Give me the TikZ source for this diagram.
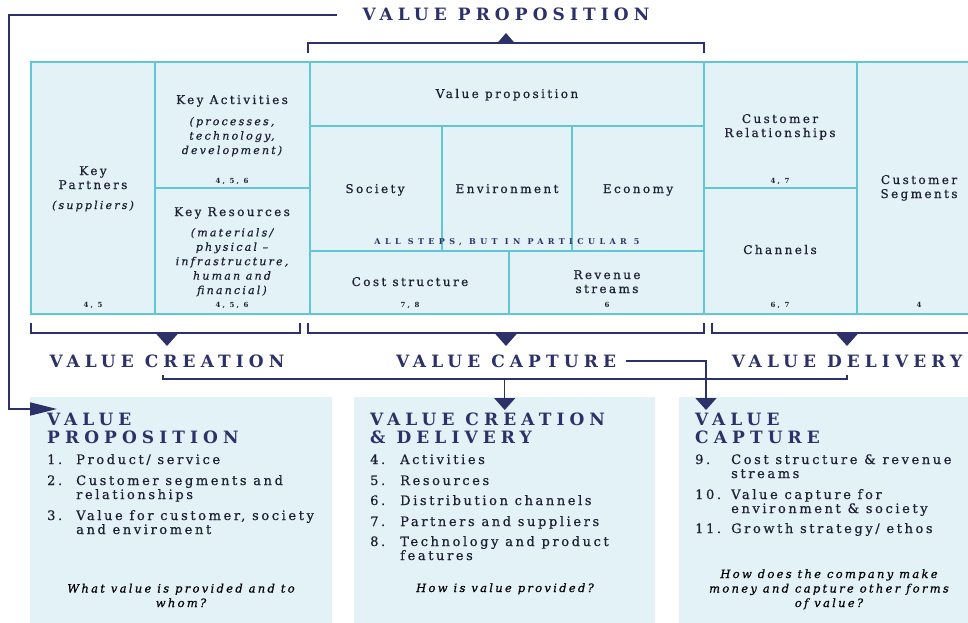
\documentclass[tikz,border=0pt]{standalone}
\usepackage{fontspec}
\setmainfont{DejaVu Serif}[LetterSpace=20, FakeBold=0.6]
\newfontfamily\capsfont{DejaVu Serif}[LetterSpace=30]
\newfontfamily\stepsfont{DejaVu Serif}[LetterSpace=55]
\usetikzlibrary{arrows.meta}
\definecolor{navy}{RGB}{45,49,105}
\definecolor{ink}{RGB}{30,31,52}
\definecolor{cyanline}{RGB}{98,198,212}
\definecolor{paleblue}{RGB}{227,242,246}

\begin{document}
\begin{tikzpicture}[x=1pt, y=-1pt,
    cellline/.style={draw=cyanline, line width=1.7pt},
    celltext/.style={font=\fontsize{12}{14}\selectfont, text=ink, align=center, inner sep=0pt, anchor=base},
    cellnote/.style={font=\fontsize{11}{14.4}\selectfont\itshape, text=ink, align=center, inner sep=0pt, anchor=base},
    cellnum/.style={font=\capsfont\bfseries\fontsize{7}{8}\selectfont, text=ink, inner sep=0pt, anchor=base},
    bigtitle/.style={font=\capsfont\bfseries\fontsize{17}{18}\selectfont, text=navy, inner sep=0pt, anchor=base},
    boxtitle/.style={bigtitle, align=left, anchor=base west},
    listtext/.style={font=\fontsize{13}{14}\selectfont, text=ink, align=left, inner sep=0pt, anchor=base west},
    question/.style={font=\fontsize{11.5}{14.5}\selectfont\itshape, text=black, align=center, inner sep=0pt, anchor=base},
    panel/.style={fill=paleblue, inner sep=0pt, anchor=north west, minimum height=230pt},
    bracket/.style={draw=navy, line width=1.5pt},
    downtip/.style={-{Triangle[width=21pt,length=12pt]}}]
    \useasboundingbox (0,0) rectangle (968,623);
    \clip (0,0) rectangle (968,623);

    \node[panel, minimum width=302pt] (vpbox) at (30,397) {};
    \node[panel, minimum width=301pt] (cdbox) at (354,397) {};
    \node[panel, minimum width=295pt] (capbox) at (679,397) {};

    \fill[paleblue] (31,62) rectangle (975,314);
    \draw[cellline] (31,62) rectangle (975,314);
    \draw[cellline] (155,62) -- (155,314) (310,62) -- (310,314) (704,62) -- (704,314) (857,62) -- (857,314);
    \draw[cellline] (155,188) -- (310,188) (704,188) -- (857,188);
    \draw[cellline] (310,126) -- (704,126) (310,251) -- (704,251);
    \draw[cellline] (442,126) -- (442,251) (572,126) -- (572,251) (509,251) -- (509,314);

    \node[celltext] (partners) at (93,189) {Key\\Partners};
    \node[cellnote] at (93,209) {(suppliers)};
    \node[cellnum] at (93,307) {4, 5};
    \node[celltext] (activities) at (232,104) {Key Activities};
    \node[cellnote] at (232,154) {(processes,\\technology,\\development)};
    \node[cellnum] at (232,183) {4, 5, 6};
    \node[celltext] (resources) at (232,216) {Key Resources};
    \node[cellnote] at (232,294) {(materials/\\physical --\\infrastructure,\\human and\\financial)};
    \node[cellnum] at (232,307) {4, 5, 6};
    \node[celltext] (valueprop) at (507,98) {Value proposition};
    \node[celltext] (society) at (375,193) {Society};
    \node[celltext] (environment) at (507,193) {Environment};
    \node[celltext] (economy) at (638,193) {Economy};
    \node[font=\stepsfont\bfseries\fontsize{8}{9}\selectfont, text=navy, inner sep=0pt, anchor=base] (allsteps) at (507,244) {ALL STEPS, BUT IN PARTICULAR 5};
    \node[celltext] (cost) at (410,286) {Cost structure};
    \node[cellnum] at (410,307) {7, 8};
    \node[celltext] (revenue) at (607,293) {Revenue\\streams};
    \node[cellnum] at (607,307) {6};
    \node[celltext] (relations) at (780,137) {Customer\\Relationships};
    \node[cellnum] at (780,183) {4, 7};
    \node[celltext] (channels) at (780,254) {Channels};
    \node[cellnum] at (780,307) {6, 7};
    \node[celltext] (segments) at (919,198) {Customer\\Segments};
    \node[cellnum] at (919,307) {4};

    \node[bigtitle] (vptop) at (506,21) {VALUE PROPOSITION};
    \node[bigtitle] (vcreate) at (167,367) {VALUE CREATION};
    \node[bigtitle] (vcapture) at (506,367) {VALUE CAPTURE};
    \node[bigtitle] (vdeliver) at (847,367) {VALUE DELIVERY};

    \draw[bracket] (308,53) |- (704,43) -- (704,53);
    \draw[bracket, -{Triangle[width=17pt,length=10pt]}] (vptop.south |- 0,43) -- ++(0,-10);
    \draw[bracket] (31,323) |- (300,333) -- (300,323);
    \draw[bracket] (308,323) |- (704,333) -- (704,323);
    \draw[bracket] (712,323) |- (975,333);
    \draw[bracket, downtip] (vcreate.north |- 0,333) -- ++(0,13);
    \draw[bracket, downtip] (vcapture.north |- 0,333) -- ++(0,13);
    \draw[bracket, downtip] (vdeliver.north |- 0,333) -- ++(0,13);

    \draw[bracket, -{Triangle[width=13pt,length=27pt]}] ([xshift=-25pt]vptop.west) -| (9,409) -- ([shift={(27,12)}]vpbox.north west);
    \draw[bracket] (163,375) |- (847,379) -- (847,375);
    \draw[bracket, downtip] (cdbox.north |- 0,379) -- ([yshift=-13pt]cdbox.north);
    \draw[bracket, downtip] ([xshift=10pt]vcapture.east) -| ([shift={(27,13)}]capbox.north west);

    \node[boxtitle] (vptitle) at (47,443) {VALUE\\PROPOSITION};
    \node[listtext] at (47,464) {1.};
    \node[listtext] at (76,464) {Product/ service};
    \node[listtext] at (47,485) {2.};
    \node[listtext] at (76,499) {Customer segments and\\relationships};
    \node[listtext] at (47,520) {3.};
    \node[listtext] at (76,534) {Value for customer, society\\and enviroment};
    \node[question] at (181,607) {What value is provided and to\\whom?};

    \node[boxtitle] (cdtitle) at (370,443) {VALUE CREATION\\\& DELIVERY};
    \node[listtext] at (370,464) {4.};
    \node[listtext] at (400,464) {Activities};
    \node[listtext] at (370,485) {5.};
    \node[listtext] at (400,485) {Resources};
    \node[listtext] at (370,505) {6.};
    \node[listtext] at (400,505) {Distribution channels};
    \node[listtext] at (370,526) {7.};
    \node[listtext] at (400,526) {Partners and suppliers};
    \node[listtext] at (370,546) {8.};
    \node[listtext] at (400,560) {Technology and product\\features};
    \node[question] at (505,592) {How is value provided?};

    \node[boxtitle] (captitle) at (695,443) {VALUE\\CAPTURE};
    \node[listtext] at (695,464) {9.};
    \node[listtext] at (731,478) {Cost structure \& revenue\\streams};
    \node[listtext] at (695,499) {10.};
    \node[listtext] at (731,513) {Value capture for\\environment \& society};
    \node[listtext] at (695,533) {11.};
    \node[listtext] at (731,533) {Growth strategy/ ethos};
    \node[question] at (829,607) {How does the company make\\money and capture other forms\\of value?};
\end{tikzpicture}
\end{document}
